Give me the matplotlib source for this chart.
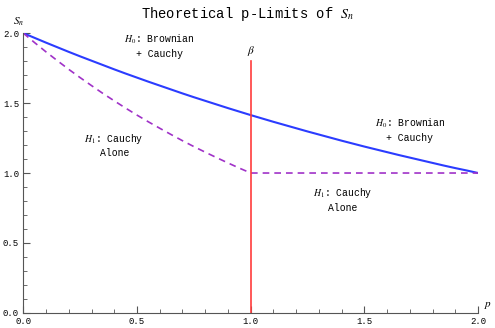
import matplotlib.pyplot as plt
from matplotlib.ticker import MultipleLocator

plt.rcParams['font.family'] = ['Liberation Mono', 'DejaVu Sans']
plt.rcParams['mathtext.fontset'] = 'stix'

# values
p = [0.0, 0.05, 0.1, 0.15, 0.2, 0.25, 0.3, 0.35, 0.4, 0.45, 0.5,
     0.55, 0.6, 0.65, 0.7, 0.75, 0.8, 0.85, 0.9, 0.95, 1.0,
     1.05, 1.1, 1.15, 1.2, 1.25, 1.3, 1.35, 1.4, 1.45, 1.5,
     1.55, 1.6, 1.65, 1.7, 1.75, 1.8, 1.85, 1.9, 1.95, 2.0]
h0_brownian = [2.0, 1.966, 1.932, 1.899, 1.866, 1.834, 1.803, 1.772, 1.741, 1.711, 1.682,
               1.653, 1.625, 1.597, 1.569, 1.542, 1.516, 1.490, 1.464, 1.439, 1.414,
               1.390, 1.366, 1.343, 1.320, 1.297, 1.275, 1.253, 1.231, 1.210, 1.189,
               1.169, 1.149, 1.129, 1.110, 1.091, 1.072, 1.053, 1.035, 1.018, 1.0]
h1_cauchy = [2.0, 1.932, 1.866, 1.803, 1.741, 1.682, 1.625, 1.569, 1.516, 1.464, 1.414,
             1.366, 1.320, 1.275, 1.231, 1.189, 1.149, 1.110, 1.072, 1.035, 1.0,
             1.0, 1.0, 1.0, 1.0, 1.0, 1.0, 1.0, 1.0, 1.0, 1.0,
             1.0, 1.0, 1.0, 1.0, 1.0, 1.0, 1.0, 1.0, 1.0, 1.0]
beta = 1.0
beta_top = 1.8

fig = plt.figure(figsize=(4.95, 3.28), dpi=100)
ax = fig.add_axes([0.047, 0.046, 0.919, 0.853])

ax.plot(p, h0_brownian, color='#2b3cff', lw=1.5)
ax.plot(p, h1_cauchy, color='#a032c8', lw=1.2, ls=(0, (4, 3)))
ax.plot([beta, beta], [0, beta_top], color='#ff3c3c', lw=1.2)

ax.text(beta, 1.87, r'$\beta$', ha='center', va='center', fontsize=8)
ax.text(0.6, 1.91, '$H_0$: Brownian\n+ Cauchy', ha='center', va='center',
        fontsize=7, linespacing=1.3)
ax.text(1.70, 1.31, '$H_0$: Brownian\n+ Cauchy', ha='center', va='center',
        fontsize=7, linespacing=1.3)
ax.text(0.40, 1.20, '$H_1$: Cauchy\nAlone', ha='center', va='center',
        fontsize=7, linespacing=1.3)
ax.text(1.405, 0.81, '$H_1$: Cauchy\nAlone', ha='center', va='center',
        fontsize=7, linespacing=1.3)

ax.set_xlim(0, 2)
ax.set_ylim(0, 2)
for s in ['top', 'right']:
    ax.spines[s].set_visible(False)
ax.spines['left'].set_color('#555555')
ax.spines['bottom'].set_color('#555555')
ax.xaxis.set_major_locator(MultipleLocator(0.5))
ax.xaxis.set_minor_locator(MultipleLocator(0.1))
ax.yaxis.set_major_locator(MultipleLocator(0.5))
ax.yaxis.set_minor_locator(MultipleLocator(0.1))
ax.xaxis.set_major_formatter(lambda v, pos: f'{v:.1f}')
ax.yaxis.set_major_formatter(lambda v, pos: f'{v:.1f}')
ax.tick_params(which='both', direction='in', labelsize=6.5, color='#555555')
ax.tick_params(axis='y', pad=3)
ax.tick_params(axis='x', pad=3)
ax.tick_params(which='major', length=5)
ax.tick_params(which='minor', length=3)

ax.text(-0.02, 2.08, '$S_n$', ha='center', va='center', fontsize=8, clip_on=False)
ax.text(2.045, 0.06, '$p$', ha='center', va='center', fontsize=8, clip_on=False)

fig.suptitle('Theoretical p-Limits of $S_n$', fontsize=10, y=0.985)

fig.savefig('out.png', dpi=100)
